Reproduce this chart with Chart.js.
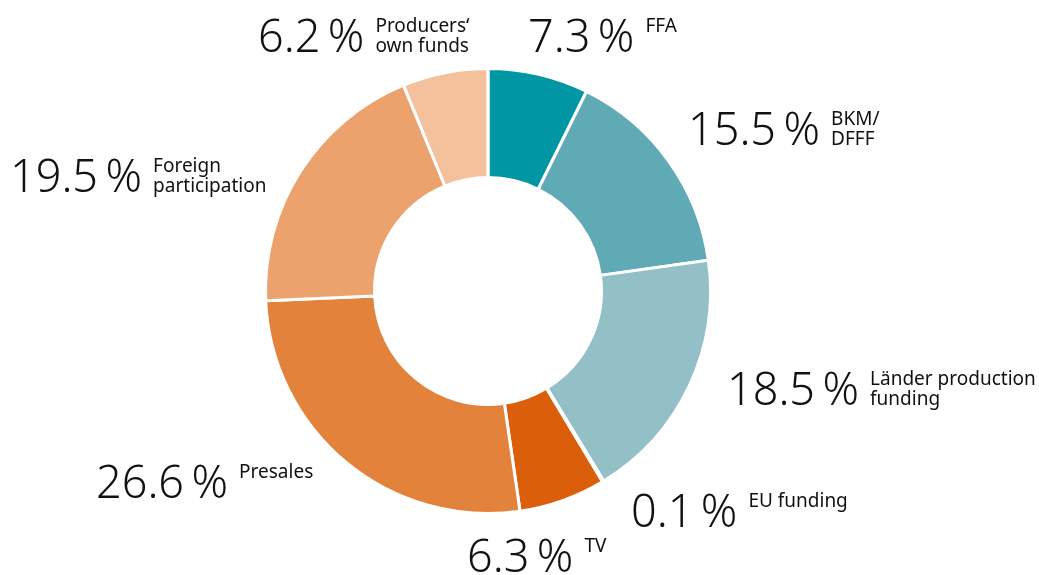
<!DOCTYPE html>
<html>
<head>
<meta charset="utf-8">
<script src="https://cdn.jsdelivr.net/npm/chart.js@4"></script>
<style>
  html, body { margin: 0; padding: 0; background: #fff; }
  #wrap { width: 1039px; height: 575px; }
</style>
</head>
<body>
<div id="wrap"><canvas id="myChart"></canvas></div>
<script>
const ctx = document.getElementById("myChart");

// data
let sources = ["FFA", "BKM/\nDFFF", "Länder production\nfunding", "EU funding", "TV", "Presales", "Foreign\nparticipation", "Producers‘\nown funds"];
let shares = [7.3, 15.5, 18.5, 0.1, 6.3, 26.6, 19.5, 6.2];
let sliceColors = ["#0096a4", "#5faab5", "#93bfc7", "#93bfc7", "#db5f0a", "#e3823a", "#eba26c", "#f3c29d"];

// where each label block sits (left x of the big number, baseline)
let labelSpots = [
    [528, 52], [688, 145], [727, 405], [631, 527],
    [467, 572], [96, 498], [10, 192], [258, 52]
];

const fontFamily = "'Noto Sans', 'Open Sans', sans-serif";

const outsideLabels = {
    id: "outsideLabels",
    afterDraw(chart) {
        const c = chart.ctx;
        c.save();
        c.fillStyle = "#111";
        c.textBaseline = "alphabetic";
        c.textAlign = "left";
        shares.forEach((v, i) => {
            const [x, y] = labelSpots[i];
            const big = v.toFixed(1) + "\u2009%";
            c.font = "300 45px " + fontFamily;
            c.fillText(big, x, y);
            const w = c.measureText(big).width;
            c.font = "19px " + fontFamily;
            const lines = sources[i].split("\n");
            lines.forEach((line, j) => {
                c.fillText(line, x + w + 11, y - 20 + j * 20);
            });
        });
        c.restore();
    }
};

let chart = new Chart(ctx, {
    type: "doughnut",
    data: {
        labels: sources.map(s => s.replace("\n", " ")),
        datasets: [
            {
                data: shares,
                backgroundColor: sliceColors,
                borderColor: "#ffffff",
                borderWidth: 3,
            },
        ],
    },
    options: {
        responsive: true,
        maintainAspectRatio: false,
        animation: false,
        cutout: "51%",
        layout: {
            padding: { left: 264, right: 327, top: 67, bottom: 60 }
        },
        plugins: {
            legend: { display: false },
            tooltip: { enabled: false }
        }
    },
    plugins: [outsideLabels]
});
</script>
</body>
</html>
